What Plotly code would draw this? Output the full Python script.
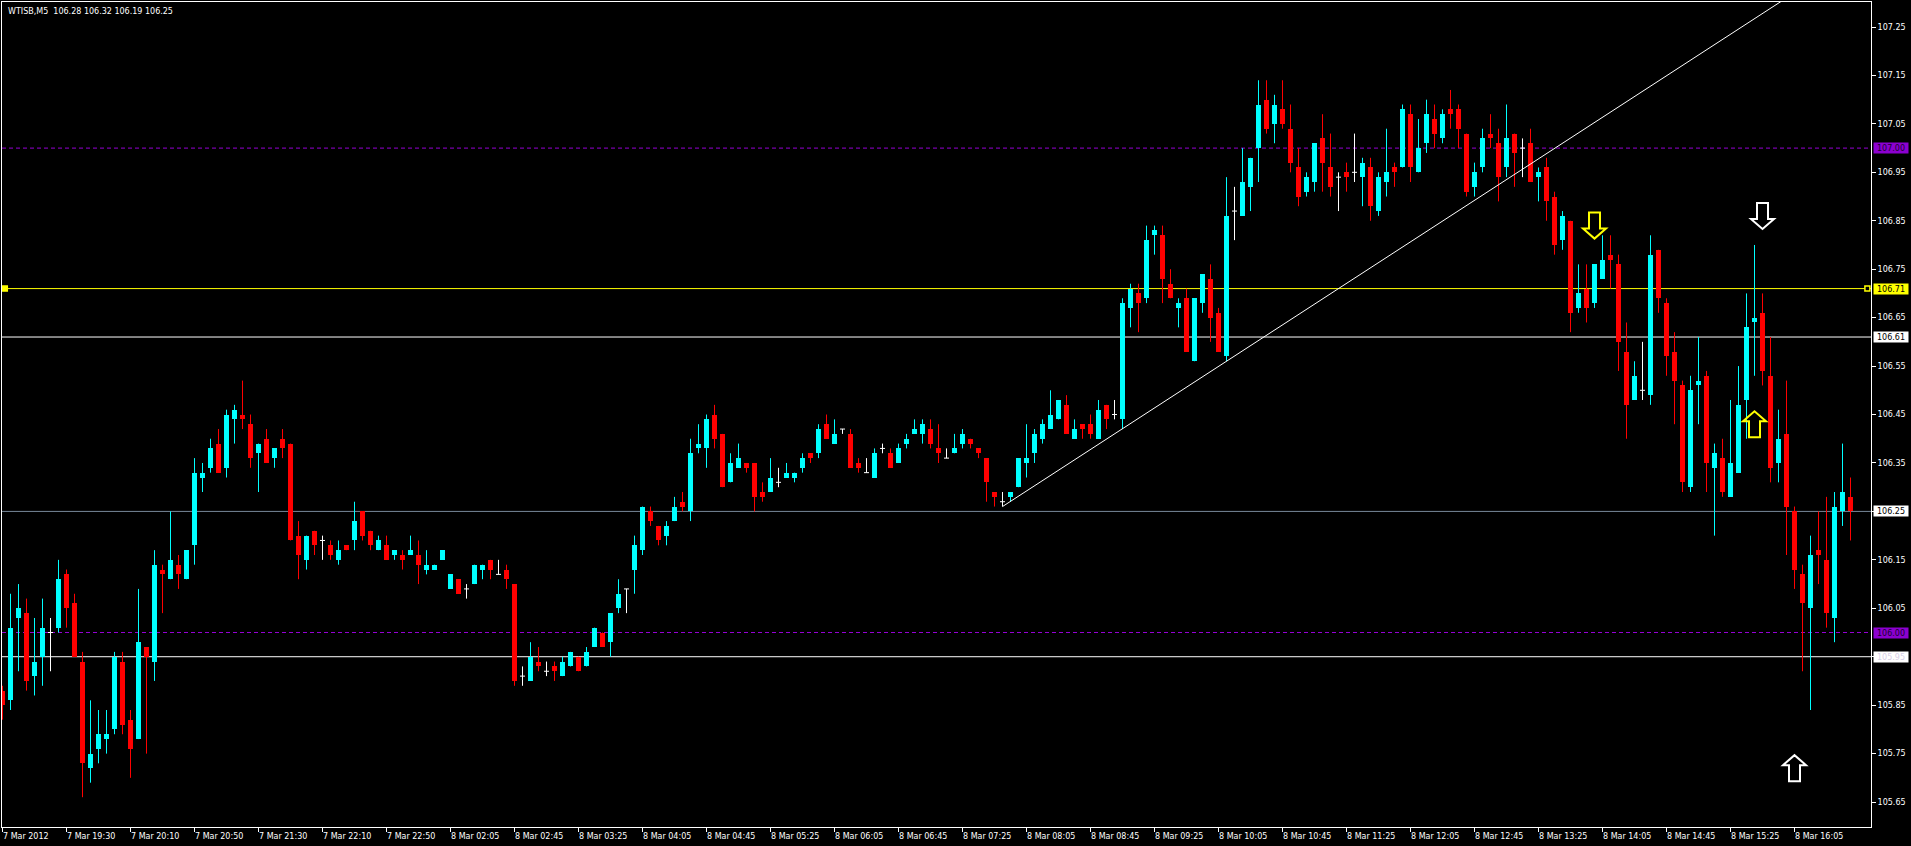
import plotly.graph_objects as go

# WTISB M5, 7 Mar 2012 18:50 -> 8 Mar 2012 16:30, OHLC
opens = [
    105.88, 105.86, 106.03, 106.04, 105.91, 105.95, 106.00, 106.01, 106.12, 106.06,
    105.94, 105.72, 105.76, 105.78, 105.80, 105.94, 105.82, 105.78, 105.97, 105.94,
    106.13, 106.11, 106.14, 106.11, 106.18, 106.32, 106.34, 106.39, 106.34, 106.44,
    106.45, 106.43, 106.37, 106.40, 106.36, 106.40, 106.39, 106.20, 106.15, 106.21,
    106.19, 106.18, 106.15, 106.18, 106.19, 106.25, 106.21, 106.17, 106.18, 106.16,
    106.16, 106.16, 106.16, 106.13, 106.13, 106.15, 106.09, 106.11, 106.09, 106.10,
    106.13, 106.15, 106.12, 106.13, 106.10, 105.91, 105.90, 105.94, 105.92, 105.93,
    105.91, 105.93, 105.95, 105.93, 105.97, 106.00, 105.98, 106.05, 106.09, 106.13,
    106.17, 106.25, 106.22, 106.20, 106.23, 106.27, 106.25, 106.38, 106.38, 106.45,
    106.41, 106.31, 106.34, 106.35, 106.35, 106.29, 106.29, 106.31, 106.32, 106.32,
    106.34, 106.37, 106.37, 106.43, 106.39, 106.42, 106.41, 106.35, 106.33, 106.32,
    106.38, 106.37, 106.35, 106.39, 106.41, 106.41, 106.42, 106.38, 106.36, 106.37,
    106.39, 106.40, 106.38, 106.36, 106.29, 106.27, 106.28, 106.30, 106.35, 106.37,
    106.40, 106.42, 106.44, 106.47, 106.40, 106.43, 106.43, 106.40, 106.47, 106.45,
    106.44, 106.67, 106.70, 106.69, 106.82, 106.82, 106.72, 106.67, 106.69, 106.56,
    106.68, 106.73, 106.66, 106.57, 106.87, 106.86, 106.92, 107.00, 107.10, 107.05,
    107.08, 107.04, 106.96, 106.91, 106.93, 107.02, 106.96, 106.94, 106.95, 106.95,
    106.94, 106.96, 106.87, 106.93, 106.96, 106.96, 107.07, 106.95, 107.01, 107.06,
    107.02, 107.08, 107.08, 107.03, 106.92, 106.96, 107.03, 107.01, 106.96, 107.03,
    107.00, 107.01, 106.94, 106.96, 106.90, 106.81, 106.85, 106.67, 106.71, 106.68,
    106.73, 106.78, 106.76, 106.58, 106.48, 106.50, 106.49, 106.79, 106.68, 106.58,
    106.51, 106.30, 106.51, 106.53, 106.34, 106.36, 106.28, 106.33, 106.48, 106.64,
    106.66, 106.53, 106.35, 106.41, 106.25, 106.12, 106.05, 106.17, 106.15, 106.03,
    106.25, 106.28,
]
highs = [
    105.89, 106.08, 106.10, 106.07, 106.03, 106.07, 106.03, 106.15, 106.13, 106.08,
    105.96, 105.86, 105.84, 105.84, 105.96, 105.96, 105.84, 106.09, 105.97, 106.17,
    106.14, 106.25, 106.16, 106.17, 106.36, 106.35, 106.40, 106.42, 106.46, 106.47,
    106.52, 106.45, 106.39, 106.42, 106.38, 106.42, 106.39, 106.23, 106.20, 106.21,
    106.20, 106.19, 106.19, 106.18, 106.27, 106.25, 106.21, 106.20, 106.20, 106.17,
    106.17, 106.20, 106.19, 106.17, 106.14, 106.17, 106.12, 106.11, 106.10, 106.14,
    106.14, 106.15, 106.15, 106.14, 106.10, 105.93, 105.98, 105.97, 105.94, 105.94,
    105.95, 105.96, 105.95, 105.97, 106.01, 106.00, 106.04, 106.11, 106.09, 106.20,
    106.26, 106.26, 106.22, 106.23, 106.28, 106.29, 106.40, 106.43, 106.45, 106.47,
    106.41, 106.37, 106.39, 106.35, 106.35, 106.31, 106.36, 106.34, 106.35, 106.33,
    106.37, 106.37, 106.43, 106.45, 106.44, 106.42, 106.42, 106.36, 106.36, 106.38,
    106.39, 106.38, 106.39, 106.41, 106.44, 106.44, 106.44, 106.43, 106.38, 106.41,
    106.42, 106.40, 106.38, 106.36, 106.29, 106.29, 106.29, 106.36, 106.43, 106.42,
    106.44, 106.50, 106.48, 106.49, 106.44, 106.43, 106.45, 106.48, 106.47, 106.48,
    106.69, 106.72, 106.72, 106.84, 106.84, 106.84, 106.75, 106.69, 106.71, 106.69,
    106.74, 106.76, 106.67, 106.94, 106.92, 107.00, 106.98, 107.14, 107.14, 107.11,
    107.14, 107.09, 107.00, 106.95, 107.01, 107.07, 107.03, 106.95, 106.97, 107.03,
    106.98, 106.98, 106.95, 107.04, 106.97, 107.09, 107.09, 107.06, 107.10, 107.09,
    107.08, 107.12, 107.09, 107.03, 106.97, 107.04, 107.07, 107.04, 107.09, 107.03,
    107.02, 107.04, 106.96, 106.98, 106.91, 106.87, 106.85, 106.76, 106.76, 106.76,
    106.82, 106.82, 106.78, 106.64, 106.56, 106.60, 106.82, 106.79, 106.69, 106.62,
    106.52, 106.53, 106.61, 106.54, 106.39, 106.40, 106.48, 106.55, 106.70, 106.80,
    106.70, 106.61, 106.46, 106.52, 106.26, 106.14, 106.20, 106.25, 106.28, 106.29,
    106.39, 106.32,
]
lows = [
    105.82, 105.84, 105.92, 105.88, 105.87, 105.89, 105.92, 106.00, 106.01, 105.95,
    105.66, 105.69, 105.73, 105.75, 105.79, 105.79, 105.70, 105.78, 105.75, 105.90,
    106.04, 106.11, 106.09, 106.11, 106.14, 106.29, 106.33, 106.33, 106.32, 106.39,
    106.42, 106.34, 106.29, 106.35, 106.34, 106.36, 106.19, 106.11, 106.13, 106.16,
    106.15, 106.15, 106.14, 106.17, 106.17, 106.19, 106.17, 106.17, 106.15, 106.15,
    106.13, 106.16, 106.10, 106.12, 106.13, 106.15, 106.09, 106.08, 106.07, 106.10,
    106.11, 106.11, 106.12, 106.09, 105.89, 105.89, 105.90, 105.92, 105.91, 105.90,
    105.91, 105.93, 105.92, 105.93, 105.97, 105.97, 105.95, 106.04, 106.04, 106.08,
    106.16, 106.22, 106.18, 106.18, 106.23, 106.25, 106.23, 106.37, 106.34, 106.38,
    106.30, 106.31, 106.34, 106.33, 106.25, 106.27, 106.29, 106.30, 106.32, 106.31,
    106.33, 106.35, 106.36, 106.40, 106.39, 106.41, 106.34, 106.33, 106.33, 106.32,
    106.37, 106.34, 106.35, 106.38, 106.41, 106.39, 106.38, 106.35, 106.36, 106.37,
    106.38, 106.38, 106.36, 106.27, 106.26, 106.26, 106.27, 106.30, 106.32, 106.35,
    106.39, 106.42, 106.44, 106.41, 106.40, 106.40, 106.40, 106.40, 106.42, 106.44,
    106.42, 106.63, 106.62, 106.68, 106.78, 106.68, 106.69, 106.63, 106.58, 106.56,
    106.66, 106.60, 106.58, 106.56, 106.81, 106.86, 106.87, 106.93, 107.03, 107.01,
    107.04, 106.95, 106.88, 106.90, 106.91, 106.91, 106.90, 106.87, 106.91, 106.93,
    106.88, 106.85, 106.86, 106.90, 106.92, 106.96, 106.93, 106.95, 106.99, 107.00,
    107.01, 107.04, 107.00, 106.90, 106.90, 106.95, 107.00, 106.89, 106.94, 106.92,
    106.94, 106.93, 106.89, 106.85, 106.78, 106.79, 106.62, 106.66, 106.64, 106.67,
    106.73, 106.71, 106.54, 106.40, 106.48, 106.48, 106.47, 106.66, 106.53, 106.43,
    106.29, 106.29, 106.43, 106.29, 106.20, 106.28, 106.28, 106.33, 106.40, 106.53,
    106.51, 106.31, 106.31, 106.16, 106.09, 105.92, 105.84, 106.10, 106.01, 105.98,
    106.22, 106.19,
]
closes = [
    105.85, 106.01, 106.05, 105.90, 105.94, 106.01, 106.00, 106.11, 106.05, 105.95,
    105.73, 105.75, 105.79, 105.79, 105.95, 105.81, 105.76, 105.98, 105.95, 106.14,
    106.12, 106.15, 106.12, 106.17, 106.33, 106.33, 106.38, 106.33, 106.45, 106.46,
    106.44, 106.36, 106.39, 106.35, 106.38, 106.38, 106.19, 106.16, 106.20, 106.18,
    106.19, 106.16, 106.17, 106.17, 106.23, 106.20, 106.18, 106.19, 106.15, 106.17,
    106.15, 106.17, 106.14, 106.14, 106.14, 106.17, 106.12, 106.08, 106.09, 106.14,
    106.14, 106.13, 106.12, 106.11, 105.90, 105.91, 105.95, 105.93, 105.92, 105.92,
    105.94, 105.96, 105.92, 105.96, 106.01, 105.97, 106.04, 106.08, 106.09, 106.18,
    106.26, 106.23, 106.19, 106.22, 106.26, 106.26, 106.37, 106.39, 106.44, 106.40,
    106.30, 106.35, 106.36, 106.34, 106.28, 106.28, 106.32, 106.31, 106.33, 106.33,
    106.36, 106.36, 106.42, 106.40, 106.41, 106.42, 106.34, 106.34, 106.33, 106.37,
    106.38, 106.34, 106.38, 106.40, 106.42, 106.43, 106.39, 106.37, 106.36, 106.38,
    106.41, 106.39, 106.37, 106.31, 106.28, 106.27, 106.29, 106.36, 106.36, 106.41,
    106.43, 106.45, 106.48, 106.41, 106.42, 106.42, 106.41, 106.46, 106.44, 106.45,
    106.68, 106.71, 106.68, 106.81, 106.83, 106.73, 106.69, 106.68, 106.58, 106.69,
    106.74, 106.65, 106.58, 106.86, 106.87, 106.93, 106.98, 107.09, 107.04, 107.09,
    107.05, 106.97, 106.90, 106.94, 107.01, 106.97, 106.92, 106.94, 106.94, 106.95,
    106.97, 106.88, 106.94, 106.95, 106.95, 107.08, 106.96, 107.00, 107.07, 107.03,
    107.07, 107.07, 107.04, 106.91, 106.95, 107.02, 107.02, 106.94, 107.02, 106.99,
    107.00, 106.93, 106.95, 106.89, 106.80, 106.86, 106.66, 106.70, 106.67, 106.76,
    106.77, 106.77, 106.60, 106.47, 106.53, 106.50, 106.78, 106.69, 106.57, 106.52,
    106.31, 106.50, 106.52, 106.35, 106.37, 106.29, 106.35, 106.47, 106.63, 106.65,
    106.54, 106.34, 106.40, 106.26, 106.13, 106.06, 106.16, 106.16, 106.04, 106.26,
    106.29, 106.25,
]

# one time label every 8 bars
time_labels = [
    "7 Mar 2012", "7 Mar 19:30", "7 Mar 20:10", "7 Mar 20:50", "7 Mar 21:30",
    "7 Mar 22:10", "7 Mar 22:50", "8 Mar 02:05", "8 Mar 02:45", "8 Mar 03:25",
    "8 Mar 04:05", "8 Mar 04:45", "8 Mar 05:25", "8 Mar 06:05", "8 Mar 06:45",
    "8 Mar 07:25", "8 Mar 08:05", "8 Mar 08:45", "8 Mar 09:25", "8 Mar 10:05",
    "8 Mar 10:45", "8 Mar 11:25", "8 Mar 12:05", "8 Mar 12:45", "8 Mar 13:25",
    "8 Mar 14:05", "8 Mar 14:45", "8 Mar 15:25", "8 Mar 16:05",
]
label_step = 8

price_ticks = [107.25, 107.15, 107.05, 106.95, 106.85, 106.75, 106.65, 106.55, 106.45,
               106.35, 106.25, 106.15, 106.05, 105.95, 105.85, 105.75, 105.65]

# horizontal levels drawn on the chart
level_prices = [107.00, 106.71, 106.61, 106.25, 106.00, 105.95]
level_colors = ["#9400D3", "#FFFF00", "#FFFFFF", "#778899", "#9400D3", "#FFFFFF"]
level_dash = ["4px,3px", "solid", "solid", "solid", "4px,3px", "solid"]
level_box = ["#8C00D0", "#FFFF00", "#FFFFFF", "#FFFFFF", "#8C00D0", "#FFFFFF"]
level_text = ["#1A0030", "#000000", "#000000", "#000000", "#1A0030", "#D8D0E8"]

# trendline through two lows
trend_bars = [125, 153]

# hollow arrows (centre bar, centre price, direction)
arrow_bars = [199, 220, 219, 224]
arrow_prices = [106.84, 106.86, 106.43, 105.72]
arrow_dirs = ["down", "down", "up", "up"]
arrow_colors = ["#FFFF00", "#FFFFFF", "#FFFF00", "#FFFFFF"]

CYAN = "#00FFFF"
RED = "#FF0000"
WHITE = "#FFFFFF"
FONT = "DejaVu Sans"
BODY_W = 0.625

n = len(closes)
idx = list(range(n))
x_lo, x_hi = -0.0625, 233.5625

up = [i for i in idx if closes[i] > opens[i]]
down = [i for i in idx if closes[i] < opens[i]]
flat = [i for i in idx if closes[i] == opens[i]]

fig = go.Figure()

# wicks
for sel, col in [(up, CYAN), (down, RED), (flat, WHITE)]:
    xs, ys = [], []
    for i in sel:
        xs += [i, i, None]
        ys += [lows[i], highs[i], None]
    fig.add_trace(go.Scatter(x=xs, y=ys, mode="lines", line=dict(color=col, width=1),
                             hoverinfo="skip"))

# bodies
for sel, col in [(up, CYAN), (down, RED)]:
    fig.add_trace(go.Bar(
        x=sel,
        base=[min(opens[i], closes[i]) for i in sel],
        y=[abs(closes[i] - opens[i]) for i in sel],
        width=BODY_W,
        marker=dict(color=col, line=dict(width=0)),
        hoverinfo="skip",
    ))

# doji cross bars
xs, ys = [], []
for i in flat:
    xs += [i - BODY_W / 2, i + BODY_W / 2, None]
    ys += [opens[i], opens[i], None]
fig.add_trace(go.Scatter(x=xs, y=ys, mode="lines", line=dict(color=WHITE, width=1),
                         hoverinfo="skip"))

# trendline (ray to the right)
b0, b1 = trend_bars
slope = (lows[b1] - lows[b0]) / (b1 - b0)
fig.add_trace(go.Scatter(x=[b0, x_hi + 10], y=[lows[b0], lows[b0] + slope * (x_hi + 10 - b0)],
                         mode="lines", line=dict(color=WHITE, width=1), hoverinfo="skip"))

# horizontal levels + price boxes on the axis
for p, col, dash, box, tc in zip(level_prices, level_colors, level_dash, level_box, level_text):
    fig.add_shape(type="line", xref="paper", x0=0, x1=1, y0=p, y1=p,
                  line=dict(color=col, width=1, dash=dash), layer="below")
    fig.add_annotation(x=1, xref="paper", y=p, yref="y", xanchor="left", yanchor="middle",
                       xshift=2, text=f"{p:.2f}", showarrow=False, bgcolor=box,
                       width=34, height=10, borderpad=0,
                       font=dict(family=FONT, size=8, color=tc))

# handles of the selected yellow line
fig.add_trace(go.Scatter(x=[x_lo + 0.35, x_hi - 0.45], y=[level_prices[1]] * 2, mode="markers",
                         marker=dict(symbol="square", size=5, color=["#FFFF00", "#000000"],
                                     line=dict(color="#FFFF00", width=1.5)),
                         cliponaxis=False, hoverinfo="skip"))

# hollow arrows, outline in pixels around the anchor
DOWN_ARROW = "M -5.5,13 L 5.5,13 L 5.5,-3 L 11.5,-3 L 0,-13 L -11.5,-3 L -5.5,-3 Z"
UP_ARROW = "M -5.5,-13 L 5.5,-13 L 5.5,3 L 11.5,3 L 0,13 L -11.5,3 L -5.5,3 Z"
for b, p, d, c in zip(arrow_bars, arrow_prices, arrow_dirs, arrow_colors):
    fig.add_shape(type="path", xref="x", yref="y", xsizemode="pixel", ysizemode="pixel",
                  xanchor=b, yanchor=p, path=DOWN_ARROW if d == "down" else UP_ARROW,
                  line=dict(color=c, width=2), fillcolor="rgba(0,0,0,0)")

# time labels, left aligned at their tick like the terminal does
label_bars = [k * label_step for k in range(len(time_labels))]
for b, t in zip(label_bars, time_labels):
    fig.add_annotation(x=b, xref="x", y=0, yref="paper", xanchor="left", yanchor="top",
                       xshift=-2, yshift=-3, text=t, showarrow=False,
                       font=dict(family=FONT, size=8, color="white"))

# symbol line
title = f"WTISB,M5  {opens[-1]:.2f} {highs[-1]:.2f} {lows[-1]:.2f} {closes[-1]:.2f}"
fig.add_annotation(x=0, xref="paper", y=1, yref="paper", xanchor="left", yanchor="top",
                   xshift=4, yshift=-3, text=title, showarrow=False,
                   font=dict(family=FONT, size=8, color="white"))

fig.update_layout(
    width=1911, height=846,
    margin=dict(l=2, r=40, t=2, b=19),
    paper_bgcolor="black", plot_bgcolor="black",
    showlegend=False, barmode="overlay", bargap=0,
    xaxis=dict(range=[x_lo, x_hi], showgrid=False, zeroline=False, showline=True,
               linecolor="white", linewidth=1, mirror=True, ticks="outside", ticklen=4,
               tickcolor="white", tickvals=label_bars, showticklabels=False),
    yaxis=dict(side="right", range=[105.5985, 107.3016], showgrid=False, zeroline=False,
               showline=True, linecolor="white", linewidth=1, mirror=True, ticks="outside",
               ticklen=4, tickcolor="white", tickvals=price_ticks,
               ticktext=[f"{v:.2f}" for v in price_ticks],
               tickfont=dict(family=FONT, size=8, color="white")),
)

fig.write_html("out.html", config={"displayModeBar": False},
               post_script="document.body.style.margin='0';document.body.style.overflow='hidden';")
